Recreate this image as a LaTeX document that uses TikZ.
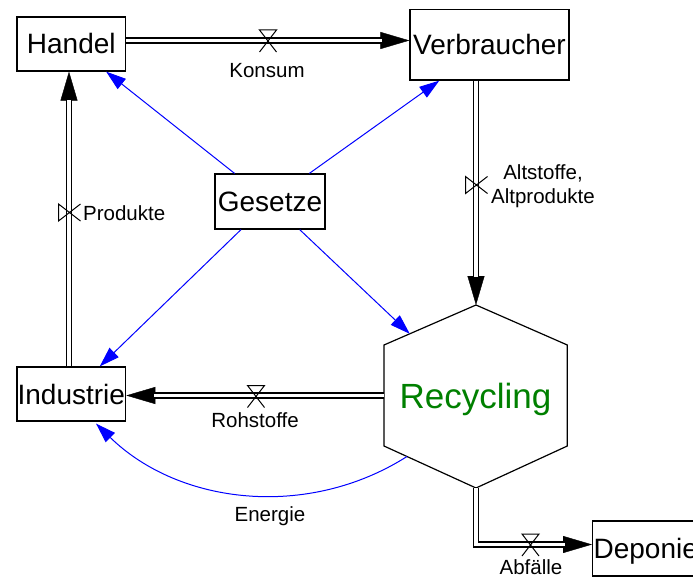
\documentclass[tikz,border=0pt]{standalone}
\usepackage{fontspec}
\setmainfont{Liberation Sans}
\usetikzlibrary{arrows.meta,calc,intersections}
\definecolor{recgreen}{RGB}{0,128,0}
\begin{document}
\begin{tikzpicture}[x=1pt,y=-1pt,
  box/.style={draw, line width=1.2pt, inner sep=0pt, text height=20pt, text depth=0pt,
    font=\fontsize{28}{32}\selectfont},
  lbl/.style={inner sep=0pt, align=center, font=\fontsize{20.5}{24}\selectfont},
  flowline/.style={line width=1.4pt, double=white, double distance=3.3pt},
  flowtip/.style={line width=0.4pt, -{Triangle[length=29pt,width=17pt]}},
  infl/.style={blue, line width=1pt, -{Triangle[length=20pt,width=13pt]}},
  valve/.pic={\draw[line width=1pt, line join=miter] (-8.5,11.5) -- (8.5,-10.5) -- (-8.5,-10.5) -- (8.5,11.5);}
]
\path[fill=white, use as bounding box] (0,0) rectangle (693,578);

% stocks
\node[box, minimum width=108.7pt, minimum height=54pt] (handel) at (71.3,44) {Handel};
\node[box, minimum width=159pt, minimum height=70.7pt] (verb) at (489.5,44.7) {Verbraucher};
\node[box, minimum width=110pt, minimum height=55pt] (ges) at (270,201.5) {Gesetze};
\node[box, minimum width=108.7pt, minimum height=54pt] (ind) at (71.3,394) {Industrie};
\node[box, minimum height=55pt, inner xsep=1pt, anchor=west] (dep) at (592,548.5) {Deponie};

% recycling hexagon
\node[inner sep=0pt, text height=25pt, text depth=0pt, font=\fontsize{35}{40}\selectfont, text=recgreen] (rec) at (475.5,396) {Recycling};
\coordinate (htop) at (476,305);
\coordinate (hur) at (567.3,345);
\coordinate (hlr) at (567.3,446);
\coordinate (hbot) at (476,488);
\coordinate (hll) at (384,446);
\coordinate (hul) at (384,345);
\draw[line width=1.2pt, name path=hex] (htop) -- (hur) -- (hlr) -- (hbot) -- (hll) -- (hul) -- cycle;

% Konsum
\draw[flowtip] ([yshift=3.5pt]handel.east) -- ([yshift=4.2pt]verb.west);
\draw[flowline, shorten >=27pt] ([yshift=3.5pt]handel.east) -- ([yshift=4.2pt]verb.west);
\pic at (268,40.5) {valve};
\node[lbl, anchor=base] (lkonsum) at (267,77.5) {Konsum};

% Produkte
\draw[flowtip] ([xshift=-2.3pt]ind.north) -- ([xshift=-2.3pt]handel.south);
\draw[flowline, shorten >=28pt] ([xshift=-2.3pt]ind.north) -- ([xshift=-2.3pt]handel.south);
\pic[rotate=90] at (69,212.5) {valve};
\node[lbl, anchor=base west] (lprod) at (83,220) {Produkte};

% Altstoffe
\draw[flowtip] ([xshift=-13.5pt]verb.south) -- (htop);
\draw[flowline, shorten >=28pt] ([xshift=-13.5pt]verb.south) -- (htop);
\pic[rotate=90] at (476,185) {valve};
\node[lbl] (lalt) at (543,186) {Altstoffe,\\Altprodukte};

% Rohstoffe
\coordinate (hleft) at ($(hul)!0.5!(hll)$);
\draw[flowtip] (hleft) -- ([yshift=-1.5pt]ind.east);
\draw[flowline, shorten >=28pt] (hleft) -- ([yshift=-1.5pt]ind.east);
\pic at (256,396) {valve};
\node[lbl, anchor=base] (lroh) at (255,427.3) {Rohstoffe};

% Abfaelle
\draw[flowtip] (hbot) |- ([yshift=4pt]dep.west);
\draw[flowline, shorten >=27pt] (hbot) |- ([yshift=4pt]dep.west);
\pic at (530.5,544.5) {valve};
\node[lbl, anchor=base] (labf) at (531,574.5) {Abfälle};

% influences
\draw[infl] (ges) -- (handel);
\draw[infl] (ges) -- (verb);
\draw[infl] (ges) -- (ind);
\path[name path=gline] (ges.center) -- (rec.center);
\path[name intersections={of=hex and gline, by=recin}];
\draw[infl] (ges) -- (recin);

% Energie
\coordinate (es) at ($(hll)!0.25!(hbot)$);
\draw[infl] (es) .. controls (308,519.4) and (179.5,505) .. ([xshift=24.7pt,yshift=-2pt]ind.south);
\node[lbl, anchor=base] (lenergie) at (270,521.7) {Energie};
\end{tikzpicture}
\end{document}
